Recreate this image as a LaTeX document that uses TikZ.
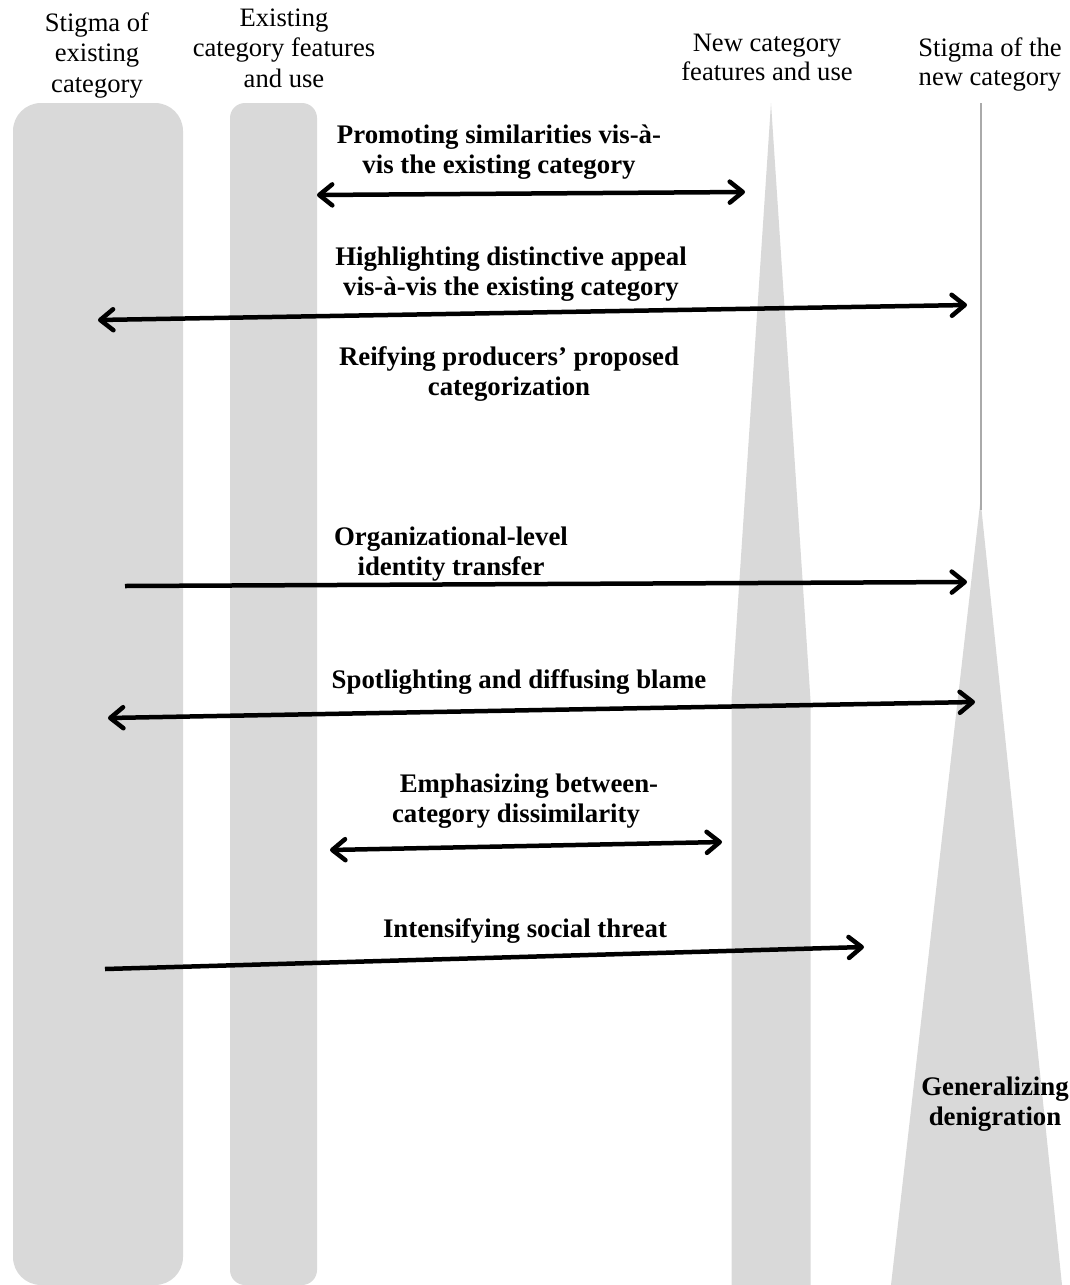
\documentclass[tikz,border=0pt]{standalone}
\usepackage{fontspec}
\setmainfont{Liberation Serif}
\usetikzlibrary{arrows.meta}
\definecolor{barfill}{RGB}{217,217,217}
\definecolor{stemgray}{RGB}{170,170,170}
\begin{document}
\begin{tikzpicture}[x=1pt,y=-1pt,
  head/.style={font=\fontsize{26.6}{30.5}\selectfont, align=center, inner sep=0pt, anchor=base},
  headtight/.style={head, font=\fontsize{26.6}{28.8}\selectfont},
  move/.style={font=\bfseries\fontsize{26.8}{30}\selectfont, align=center, inner sep=0pt, anchor=base},
  barb/.tip={Straight Barb[length=13pt,width=21pt,round]},
  flow/.style={line width=4.5pt, draw=black},
  both/.style={flow, {barb}-{barb}},
  one/.style={flow, -{barb}}]

\useasboundingbox (0,0) rectangle (1069,1285);

% columns
\fill[barfill, rounded corners=28pt] (13,103) rectangle (183,1285);
\fill[barfill, rounded corners=15pt] (230,103) rectangle (317,1285);
\fill[barfill] (771,103) -- (810.5,700) -- (810.5,1285) -- (731.5,1285) -- (731.5,700) -- cycle;
\fill[barfill] (980.5,500) -- (1062,1285) -- (891,1285) -- cycle;
\draw[stemgray, line width=2pt] (981,103) -- (981,510);

% column headings (anchored at the baseline of the last line)
\node[head] (hStigmaOld) at (97,92) {Stigma of\\existing\\category};
\node[head] (hFeatOld) at (284,87) {Existing\\category features\\and use};
\node[headtight] (hFeatNew) at (767,80) {New category\\features and use};
\node[headtight] (hStigmaNew) at (990,85) {Stigma of the\\new category};

% strategy labels
\node[move] (tPromote) at (499,173) {Promoting similarities vis-à-\\vis the existing category};
\node[move] (tHighlight) at (511,295) {Highlighting distinctive appeal\\vis-à-vis the existing category};
\node[move] (tReify) at (509,395) {Reifying producers’ proposed\\categorization};
\node[move] (tTransfer) at (451,575) {Organizational-level\\identity transfer};
\node[move] (tBlame) at (519,688) {Spotlighting and diffusing blame};
\node[move] (tDissim) at (516,822) {\hspace*{26pt}Emphasizing between-\\category dissimilarity};
\node[move] (tThreat) at (525,937) {Intensifying social threat};
\node[move] (tDenig) at (995,1125) {Generalizing\\denigration};

% arrow end points
\coordinate (a1L) at (317,195);  \coordinate (a1R) at (745,192);
\coordinate (a2L) at (98,320);   \coordinate (a2R) at (967,305);
\coordinate (a3L) at (125,586);  \coordinate (a3R) at (967,582);
\coordinate (a4L) at (108,718);  \coordinate (a4R) at (975,702);
\coordinate (a5L) at (330,850);  \coordinate (a5R) at (722,842);
\coordinate (a6L) at (105,969);  \coordinate (a6R) at (864,947);

\draw[both] (a1L) -- (a1R);
\draw[both] (a2L) -- (a2R);
\draw[one]  (a3L) -- (a3R);
\draw[both] (a4L) -- (a4R);
\draw[both] (a5L) -- (a5R);
\draw[one]  (a6L) -- (a6R);
\end{tikzpicture}
\end{document}
